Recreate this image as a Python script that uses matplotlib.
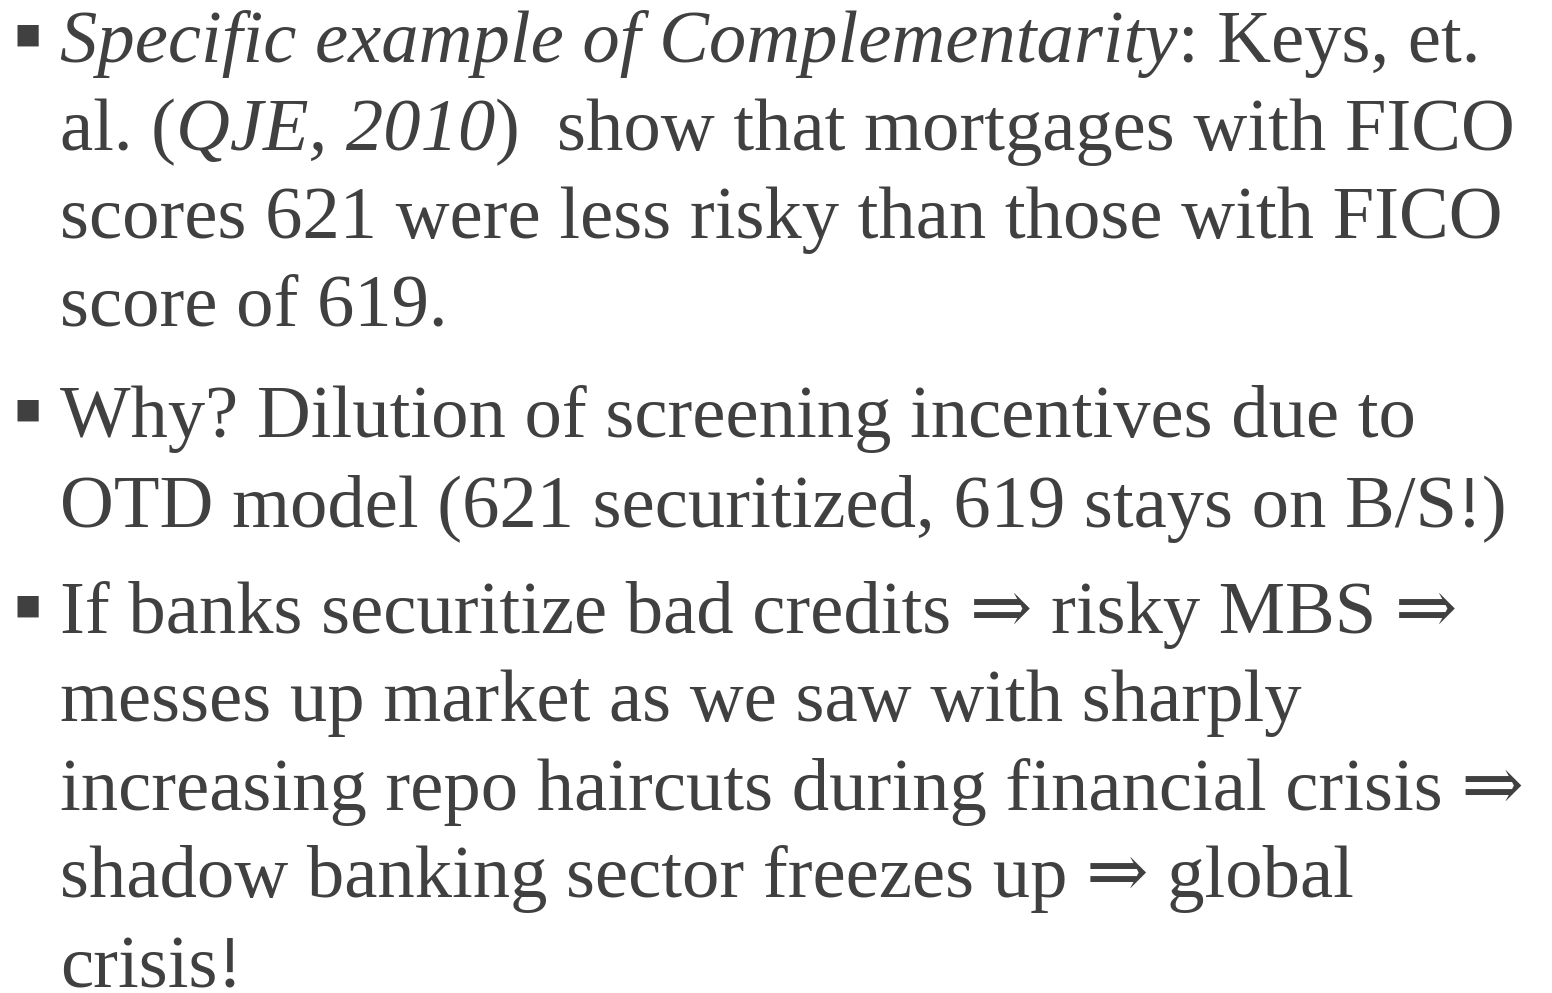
import matplotlib.pyplot as plt

W, H = 1552, 993
FONT = ['Liberation Serif', 'DejaVu Serif']
COLOR = '#404040'
SIZE = 53.7

# each line: list of (text, italic)
lines = [
    [("Specific example of Complementarity", True), (": Keys, et.", False)],
    [("al. (", False), ("QJE, 2010", True), (")  show that mortgages with FICO", False)],
    [("scores 621 were less risky than those with FICO", False)],
    [("score of 619.", False)],
    [("Why? Dilution of screening incentives due to", False)],
    [("OTD model (621 securitized, 619 stays on B/S!)", False)],
    [("If banks securitize bad credits \u21d2 risky MBS \u21d2", False)],
    [("messes up market as we saw with sharply", False)],
    [("increasing repo haircuts during financial crisis \u21d2", False)],
    [("shadow banking sector freezes up \u21d2 global", False)],
    [("crisis!", False)],
]
baselines = [62, 150, 238, 325, 437, 527, 633, 721, 810, 897, 988]
bullet_lines = [0, 4, 6]

fig = plt.figure(figsize=(W / 100, H / 100), dpi=100)
fig.canvas.draw()
r = fig.canvas.get_renderer()

for i, (segs, yb) in enumerate(zip(lines, baselines)):
    y = 1 - yb / H
    if i in bullet_lines:
        fig.text(28 / W, 1 - (yb - 27) / H, "\u25a0", family='DejaVu Sans',
                 fontsize=20, color=COLOR, va='center', ha='center')
    # segments follow one another along the line
    x = 60
    for txt, ital in segs:
        t = fig.text(x / W, y, txt, family=FONT, fontsize=SIZE,
                     style='italic' if ital else 'normal', color=COLOR,
                     va='baseline', ha='left')
        x = t.get_window_extent(r).x1

fig.savefig('out.png', dpi=100)
